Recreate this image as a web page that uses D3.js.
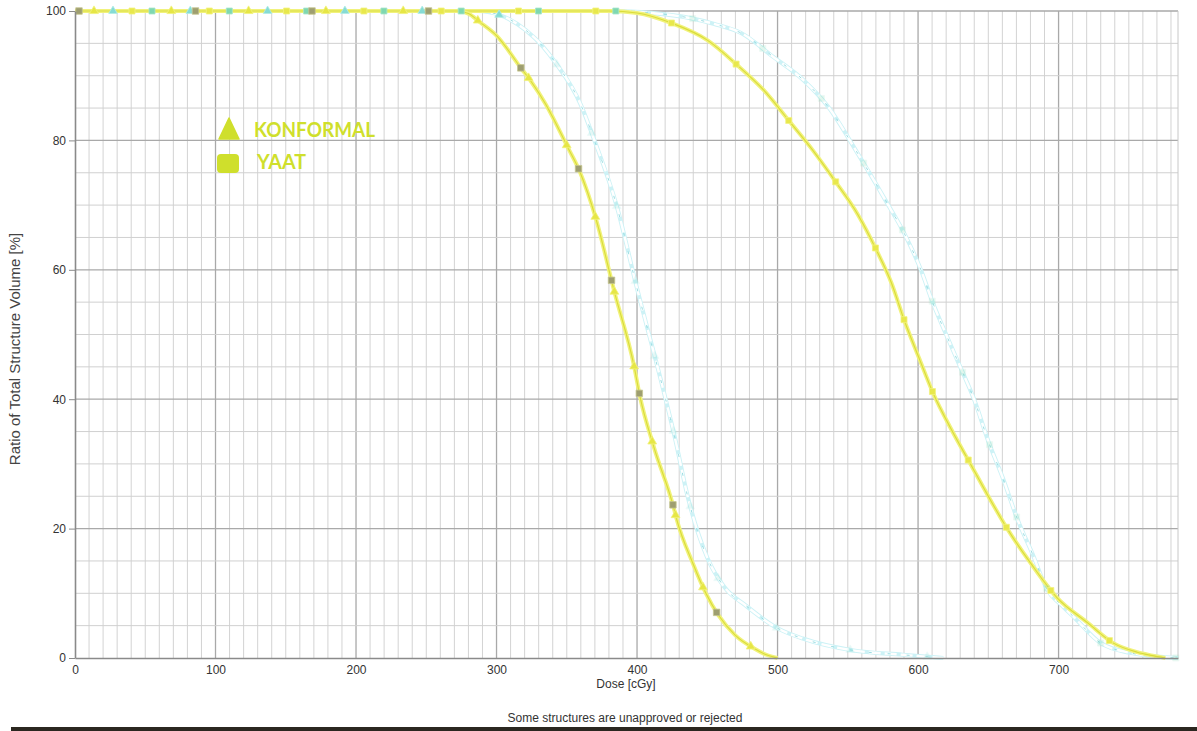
<!DOCTYPE html>
<html>
<head>
<meta charset="utf-8">
<script src="https://cdn.jsdelivr.net/npm/d3@7"></script>
<style>
  html, body { margin: 0; padding: 0; background: #ffffff; }
  svg { display: block; }
  text { font-family: "Liberation Sans", Arial, sans-serif; }
</style>
</head>
<body>
<svg id="chart" width="1197" height="731"></svg>
<script>
// Axis ticks
const doseTicks = [0, 100, 200, 300, 400, 500, 600, 700];
const volumeTicks = [0, 20, 40, 60, 80, 100];
const doseMax = 785;

// Cumulative DVH, lower-dose target, plan drawn in yellow
const doseLowYellow = [0, 272, 280, 288, 300, 318, 324, 335, 351, 359, 371, 384, 398, 402, 412, 426, 428, 440, 449, 458, 470, 484, 492, 500];
const volLowYellow  = [100, 100, 99.6, 98.3, 96.2, 91, 89.3, 85.6, 78.8, 75.3, 67.7, 56.5, 45, 40.5, 32.6, 23.3, 21.6, 14.5, 10, 6.6, 3.5, 1.4, 0.5, 0];

// Cumulative DVH, lower-dose target, plan drawn in cyan
const doseLowCyan = [0, 285, 295, 302, 321, 333, 342, 360, 369, 386, 399, 420, 427, 436, 450, 462, 478, 500, 518, 553, 589, 618];
const volLowCyan  = [100, 100, 99.8, 99.4, 97, 94.5, 92, 85.5, 80.4, 69.5, 58, 40.3, 34, 25, 15.5, 11, 8, 4.6, 3, 1.2, 0.5, 0];

// Cumulative DVH, higher-dose target, plan drawn in yellow
const doseHighYellow = [0, 380, 400, 425, 450, 471.5, 490, 509, 525, 542, 557, 570.5, 581, 590.5, 601, 611, 624, 637, 650, 664, 680, 699, 721, 739, 756, 766, 776];
const volHighYellow  = [100, 100, 99.7, 98.1, 95.5, 91.6, 87.8, 82.8, 78.5, 73.4, 68.6, 63, 58, 52, 46.2, 40.8, 35.2, 30.1, 25, 19.8, 14.7, 9.3, 5.4, 2.3, 0.9, 0.4, 0];

// Cumulative DVH, higher-dose target, plan drawn in cyan
const doseHighCyan = [0, 385, 410, 438, 455, 474, 497, 518.5, 536, 557, 578, 590, 602, 610.5, 620, 630, 640, 650, 660, 671, 682, 692, 702, 711, 730, 751, 770, 785];
const volHighCyan  = [100, 100, 99.7, 98.9, 98, 96.6, 92.9, 89.3, 85.2, 78, 70.3, 65.7, 60, 54.9, 50, 45, 39.9, 33.5, 28, 21.3, 15.8, 10.5, 8.2, 6.3, 2.3, 0.8, 0.2, 0];

// Legend entries
const legendLabels = ["KONFORMAL", "YAAT"];

const zip = (d, v) => d.map((x, i) => ({ dose: x, vol: v[i] }));

const svg = d3.select("#chart");
const margin = { left: 75, top: 11, right: 1178, bottom: 658 };

const x = d3.scaleLinear().domain([0, doseMax]).range([margin.left, margin.right]);
const y = d3.scaleLinear().domain([0, 100]).range([margin.bottom, margin.top]);

// Grid: minor every 10 cGy / 5 %, major every 100 cGy / 20 %
const grid = svg.append("g");
grid.selectAll("line.v").data(d3.range(10, doseMax, 10)).join("line")
  .attr("x1", d => x(d)).attr("x2", d => x(d))
  .attr("y1", y(0)).attr("y2", y(100))
  .attr("stroke", d => d % 100 === 0 ? "#a9a9a9" : "#d3d3d3")
  .attr("stroke-width", d => d % 100 === 0 ? 1.3 : 1);
grid.selectAll("line.h").data(d3.range(5, 101, 5)).join("line")
  .attr("x1", x(0)).attr("x2", x(doseMax))
  .attr("y1", d => y(d)).attr("y2", d => y(d))
  .attr("stroke", d => d % 20 === 0 ? "#a9a9a9" : "#d0d0d0")
  .attr("stroke-width", d => d % 20 === 0 ? 1.3 : 1);
grid.append("line")
  .attr("x1", x(doseMax)).attr("x2", x(doseMax))
  .attr("y1", y(0)).attr("y2", y(100))
  .attr("stroke", "#c8c8c8");

// Curves
const line = d3.line().x(d => x(d.dose)).y(d => y(d.vol)).curve(d3.curveMonotoneX);

const curves = svg.append("g");

function cyanCurve(data) {
  const g = curves.append("g");
  g.append("path").datum(data).attr("d", line)
    .attr("fill", "none").attr("stroke", "#cdf2f6").attr("stroke-width", 4.2);
  g.append("path").datum(data).attr("d", line)
    .attr("fill", "none").attr("stroke", "#ffffff").attr("stroke-width", 2.4)
    .attr("stroke-dasharray", "12 4");
  g.append("path").datum(data).attr("d", line)
    .attr("fill", "none").attr("stroke", "#9adde2").attr("stroke-width", 1)
    .attr("stroke-dasharray", "3 16");
  return g.append("path").datum(data).attr("d", line).attr("fill", "none").attr("stroke", "none").node();
}

function yellowCurve(data) {
  const g = curves.append("g");
  g.append("path").datum(data).attr("d", line)
    .attr("fill", "none").attr("stroke", "#f1f27c").attr("stroke-width", 4);
  return g.append("path").datum(data).attr("d", line)
    .attr("fill", "none").attr("stroke", "#d9dc3a").attr("stroke-width", 1.1).node();
}

const pathHighCyan = cyanCurve(zip(doseHighCyan, volHighCyan));
const pathLowCyan = cyanCurve(zip(doseLowCyan, volLowCyan));
const pathHighYellow = yellowCurve(zip(doseHighYellow, volHighYellow));
const pathLowYellow = yellowCurve(zip(doseLowYellow, volLowYellow));

// Markers are spaced evenly along each curve; on the pale curves they
// only stand out along the 100 % plateau.
const triangle = d3.symbol().type(d3.symbolTriangle);
const markers = svg.append("g");

function placeMarkers(node, offset, step, shape, size, fill, stroke, pale) {
  const total = node.getTotalLength();
  const pts = [];
  for (let s = offset; s <= total; s += step) pts.push(node.getPointAtLength(s));
  markers.append("g").selectAll("path").data(pts).join("path")
    .attr("transform", p => `translate(${p.x},${p.y})`)
    .attr("d", shape === "triangle"
      ? triangle.size(size)()
      : `M${-size / 2},${-size / 2}h${size}v${size}h${-size}Z`)
    .attr("fill", fill)
    .attr("stroke", stroke)
    .attr("stroke-width", 0.8)
    .attr("opacity", p => pale && p.y > y(99) ? 0.22 : 1);
}

placeMarkers(pathHighCyan, 77, 77.3, "square", 6, "#7fd8b0", "#a8e6cc", true);
placeMarkers(pathLowCyan, 38, 77.3, "triangle", 32, "#86dcd4", "#b0ece6", true);
placeMarkers(pathHighYellow, 57, 77.3, "square", 6, "#e8e84c", "#f2f280", false);
placeMarkers(pathLowYellow, 19, 77.3, "triangle", 34, "#e6e646", "#f1f27c", false);
placeMarkers(pathLowYellow, 4, 116.5, "square", 6.5, "#9e9e70", "#c6c690", false);

// Axes
const yAxis = svg.append("g")
  .attr("transform", `translate(${x(0)},0)`)
  .call(d3.axisLeft(y).tickValues(volumeTicks).tickSize(6).tickSizeOuter(0).tickPadding(3));
yAxis.select(".domain").attr("stroke", "#8a8a8a").attr("stroke-width", 1.6);
yAxis.selectAll(".tick line").attr("stroke", "#8a8a8a");
yAxis.selectAll(".tick text").attr("font-size", 12).attr("fill", "#333")
  .style("font-family", "'Liberation Sans', Arial, sans-serif");

const xAxis = svg.append("g")
  .attr("transform", `translate(0,${y(0)})`)
  .call(d3.axisBottom(x).tickValues(doseTicks).tickSize(0).tickSizeOuter(0).tickPadding(7));
xAxis.select(".domain").attr("stroke", "#8a8a8a").attr("stroke-width", 1.6);
xAxis.selectAll(".tick text").attr("font-size", 12).attr("fill", "#333")
  .style("font-family", "'Liberation Sans', Arial, sans-serif");

// Axis titles and footer
svg.append("text")
  .attr("x", 626).attr("y", 688)
  .attr("text-anchor", "middle").attr("font-size", 12).attr("fill", "#333")
  .text("Dose [cGy]");

svg.append("text")
  .attr("transform", `translate(20,349) rotate(-90)`)
  .attr("text-anchor", "middle").attr("font-size", 15).attr("fill", "#444")
  .text("Ratio of Total Structure Volume [%]");

svg.append("text")
  .attr("x", 625).attr("y", 722)
  .attr("text-anchor", "middle").attr("font-size", 12).attr("fill", "#333")
  .text("Some structures are unapproved or rejected");

svg.append("rect")
  .attr("x", 11).attr("y", 727).attr("width", 1186).attr("height", 4)
  .attr("fill", "#2b2720");

// Legend
const legendColor = "#cfdf2c";
const legend = svg.append("g");
legend.append("path")
  .attr("d", "M229,118 L239,139 L219,139 Z")
  .attr("fill", legendColor).attr("stroke", legendColor).attr("stroke-linejoin", "round").attr("stroke-width", 1.5);
legend.append("rect")
  .attr("x", 217).attr("y", 154).attr("width", 22).attr("height", 19).attr("rx", 4)
  .attr("fill", legendColor);
legend.selectAll("text").data(legendLabels).join("text")
  .attr("x", (d, i) => i === 0 ? 254 : 257)
  .attr("y", (d, i) => i === 0 ? 137 : 169)
  .attr("font-size", 20)
  .attr("font-weight", "bold")
  .attr("fill", legendColor)
  .style("font-family", "Lato, 'Open Sans', sans-serif")
  .attr("textLength", (d, i) => i === 0 ? 121 : 49)
  .attr("lengthAdjust", "spacingAndGlyphs")
  .text(d => d);
</script>
</body>
</html>
